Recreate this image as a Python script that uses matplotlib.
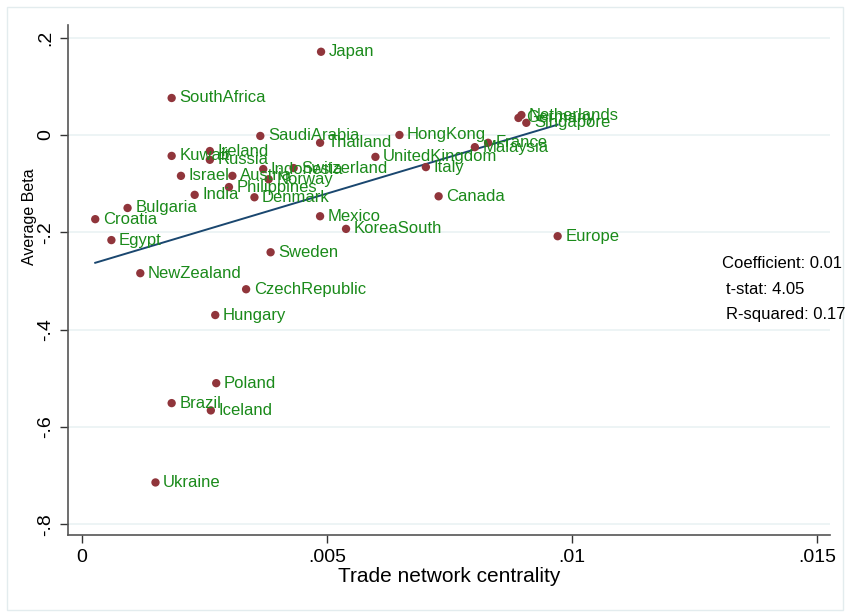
import numpy as np
import matplotlib
matplotlib.use("Agg")
import matplotlib.pyplot as plt
from matplotlib.patches import Rectangle

plt.rcParams['font.family'] = ['Liberation Sans', 'DejaVu Sans']

countries = ["Japan", "SouthAfrica", "SaudiArabia", "Thailand", "HongKong", "Ireland",
             "Kuwait", "Russia", "UnitedKingdom", "Israel", "Austria", "Indonesia",
             "Switzerland", "Norway", "Philippines", "India", "Denmark", "Italy", "Canada",
             "Bulgaria", "Croatia", "Egypt", "Mexico", "KoreaSouth", "Sweden", "Europe",
             "NewZealand", "CzechRepublic", "Hungary", "Poland", "Brazil", "Iceland",
             "Ukraine", "Germany", "Netherlands", "Singapore", "Malaysia", "France"]
centrality = [0.00488, 0.00183, 0.00364, 0.00486, 0.00648, 0.00261,
              0.00183, 0.00261, 0.00599, 0.00202, 0.00307, 0.00370,
              0.00432, 0.00381, 0.00300, 0.00230, 0.00352, 0.00702, 0.00728,
              0.00093, 0.00027, 0.00060, 0.00486, 0.00539, 0.00385, 0.00971,
              0.00119, 0.00335, 0.00272, 0.00274, 0.00183, 0.00263,
              0.00150, 0.00891, 0.00897, 0.00907, 0.00802, 0.00829]
beta = [0.171, 0.076, -0.002, -0.016, 0.000, -0.033,
        -0.043, -0.051, -0.045, -0.084, -0.084, -0.070,
        -0.068, -0.091, -0.107, -0.123, -0.128, -0.066, -0.126,
        -0.150, -0.173, -0.216, -0.167, -0.193, -0.241, -0.208,
        -0.284, -0.317, -0.370, -0.510, -0.551, -0.566,
        -0.714, 0.035, 0.041, 0.025, -0.025, -0.016]

xticks = [0, 0.005, 0.01, 0.015]
xticklabels = ["0", ".005", ".01", ".015"]
yticks = [0.2, 0, -0.2, -0.4, -0.6, -0.8]
yticklabels = [".2", "0", "-.2", "-.4", "-.6", "-.8"]
stats_text = ["Coefficient: 0.01", "t-stat: 4.05", "R-squared: 0.17"]

fig = plt.figure(figsize=(8.5, 6.15), dpi=100)
fig.patch.set_facecolor("white")
# outer graph region frame
fig.add_artist(Rectangle((7/850, 1-610/615), 836/850, 603/615, transform=fig.transFigure,
                         fill=False, edgecolor="#e3ecee", linewidth=1.0))

ax = fig.add_axes([68/850, 1-535/615, (830-68)/850, (535-25)/615])
ax.set_xlim(-0.000286, 0.01527)
ax.set_ylim(-0.822, 0.226)
ax.patch.set_edgecolor("none")

for yt in yticks:
    ax.axhline(yt, color="#eaf2f3", linewidth=1.2, zorder=0)

x = np.array(centrality)
y = np.array(beta)
slope, intercept = np.polyfit(x, y, 1)
xf = np.array([x.min(), x.max()])
ax.plot(xf, intercept + slope * xf, color="#1a476f", linewidth=1.4, zorder=2)

ax.scatter(x, y, s=36, color="#90353b", zorder=3, edgecolors="none")
for c, xi, yi in zip(countries, x, y):
    ax.annotate(c, (xi, yi), xytext=(5.5, 0), textcoords="offset points",
                va="center", ha="left", color="#1a8a1a", fontsize=12, zorder=4)

ax.set_xticks(xticks)
ax.set_xticklabels(xticklabels, fontsize=14)
ax.set_yticks(yticks)
ax.set_yticklabels(yticklabels, fontsize=14, rotation=90, va="center")
ax.tick_params(axis="both", length=6, width=1, color="#333333", direction="out")
ax.tick_params(axis="y", pad=4)
ax.tick_params(axis="x", pad=4)

ax.spines["top"].set_visible(False)
ax.spines["right"].set_visible(False)
for side in ["left", "bottom"]:
    ax.spines[side].set_color("#555555")
    ax.spines[side].set_linewidth(1.2)

ax.set_xlabel("Trade network centrality", fontsize=15, labelpad=1)
ax.set_ylabel("Average Beta", fontsize=11.5)
ax.yaxis.set_label_coords(-0.041, 0.624)

fig.text(722/850, 1-263/615, stats_text[0], fontsize=12, va="center", ha="left")
fig.text(726/850, 1-290/615, stats_text[1], fontsize=12, va="center", ha="left")
fig.text(726/850, 1-314/615, stats_text[2], fontsize=12, va="center", ha="left")

fig.savefig("out.png", dpi=100)
